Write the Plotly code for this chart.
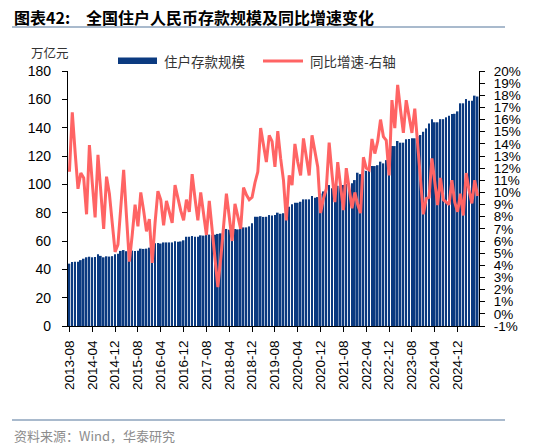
import pandas as pd
import plotly.graph_objects as go

# ---------------- data ----------------
months = pd.date_range("2013-08-01", periods=144, freq="MS").strftime("%Y-%m").tolist()

# 住户存款规模 (万亿元)
deposits = [
    44.0, 45.2, 45.4, 45.4, 46.5,                                        # 2013-08..12
    47.5, 48.5, 48.9, 48.5, 48.7, 50.6, 49.5, 48.5, 49.2, 49.0, 49.3, 50.6,  # 2014
    51.0, 53.0, 53.6, 52.8, 53.0, 53.2, 53.0, 53.2, 54.6, 54.4, 54.6, 55.3,  # 2015
    56.5, 58.4, 58.6, 58.2, 59.0, 59.0, 59.0, 59.0, 59.8, 59.5, 59.7, 60.5,  # 2016
    63.0, 63.0, 63.5, 63.0, 63.0, 64.0, 63.8, 64.2, 64.5, 64.2, 64.4, 65.0,  # 2017
    65.4, 68.2, 68.5, 68.0, 68.2, 68.5, 68.2, 68.6, 69.6, 69.6, 70.3, 72.5,  # 2018
    77.1, 77.1, 77.5, 77.0, 77.1, 78.3, 78.0, 78.3, 80.0, 79.2, 79.6, 81.5,  # 2019
    84.2, 86.0, 87.0, 87.0, 87.7, 89.4, 89.4, 89.4, 91.7, 90.6, 91.0, 93.5,  # 2020
    95.0, 97.2, 99.5, 97.2, 98.8, 99.0, 99.5, 99.5, 100.2, 100.0, 100.7, 103.0,  # 2021
    108.2, 107.2, 110.1, 109.5, 111.0, 112.9, 112.9, 113.5, 116.0, 114.8, 117.1, 120.0,  # 2022
    127.0, 127.0, 130.6, 129.4, 129.4, 131.8, 132.0, 132.5, 132.5, 134.0, 134.8, 137.1,  # 2023
    139.5, 143.0, 146.0, 143.8, 143.8, 146.0, 146.0, 147.3, 148.5, 149.6, 149.8, 151.5,  # 2024
    157.2, 157.2, 160.2, 159.0, 159.0, 162.6, 162.0,                      # 2025-01..07
]

# 同比增速 (%)
yoy = [
    11.7, 16.6, 13.3, 10.3, 11.6,                                         # 2013-08..12
    11.2, 8.2, 13.9, 10.8, 7.95, 13.1, 10.0, 7.0, 11.3, 9.9, 7.5, 5.1,     # 2014
    5.7, 8.5, 11.85, 8.0, 4.3, 6.5, 9.0, 7.2, 10.0, 8.5, 6.8, 7.8,         # 2015
    4.2, 7.5, 10.1, 9.4, 7.3, 9.3, 8.5, 7.5, 10.6, 9.5, 8.5, 7.7,          # 2016
    9.4, 8.4, 11.5, 9.5, 7.7, 10.0, 8.3, 6.5, 9.3, 7.0, 4.5, 2.2,          # 2017
    4.5, 7.5, 9.9, 8.0, 6.0, 9.05, 8.0, 7.0, 10.4, 9.8, 9.4, 9.6,          # 2018
    10.8, 11.7, 15.3, 13.8, 12.5, 14.7, 14.2, 12.1, 15.05, 12.8, 11.0, 7.7,  # 2019
    11.4, 10.6, 14.0, 12.5, 11.4, 14.45, 12.8, 11.4, 14.7, 13.3, 12.1, 8.3,  # 2020
    9.5, 10.3, 14.1, 11.5, 9.2, 12.5, 10.5, 8.55, 12.0, 10.3, 8.7, 10.0,   # 2021
    9.0, 8.3, 12.9, 12.0, 11.85, 14.4, 13.2, 14.2, 16.0, 14.6, 14.3, 11.4,  # 2022
    17.6, 15.3, 18.85, 16.8, 14.9, 17.6, 16.2, 14.9, 16.9, 14.2, 11.2, 8.2,  # 2023
    9.5, 9.6, 12.8, 10.8, 8.95, 11.2, 9.4, 9.2, 9.0, 11.0, 9.2, 8.4,       # 2024
    9.9, 8.1, 11.6, 10.2, 9.1, 11.0, 9.7,                                 # 2025-01..07
]

tick_months = months[::8]
left_ticks = list(range(0, 181, 20))
right_ticks = list(range(-1, 21))

# ---------------- styling ----------------
W, H = 550, 447
L, R, T, B = 68, 71, 71, 121
BAR_COLOR = "#0b3a80"
LINE_COLOR = "#ff6464"
RULE_COLOR = "#a9bacd"
FONT_LAT = "Liberation Sans, Arial, sans-serif"
FONT_CJK = "Noto Sans CJK SC, sans-serif"


def px(x, y):
    """pixel position -> paper coords"""
    return (x - L) / (W - L - R), (H - B - y) / (H - T - B)


fig = go.Figure()
fig.add_trace(go.Bar(x=months, y=deposits, name="住户存款规模",
                     marker=dict(color=BAR_COLOR, line=dict(width=0)),
                     yaxis="y"))
fig.add_trace(go.Scatter(x=months, y=yoy, name="同比增速-右轴", mode="lines",
                         line=dict(color=LINE_COLOR, width=3),
                         yaxis="y2"))

axis_common = dict(showline=True, linecolor="black", linewidth=1.2,
                   ticks="outside", ticklen=5, tickcolor="black",
                   showgrid=False, zeroline=False, automargin=False)

fig.update_layout(
    width=W, height=H,
    margin=dict(l=L, r=R, t=T, b=B, pad=0, autoexpand=False),
    paper_bgcolor="white", plot_bgcolor="white",
    showlegend=False,
    bargap=0.4,
    font=dict(family=FONT_LAT, size=13, color="black"),
    xaxis=dict(type="category", range=[-0.5, len(months) - 0.5],
               tickmode="array", tickvals=tick_months, ticktext=tick_months,
               tickangle=-90, tickfont=dict(size=13.5, family=FONT_LAT),
               ticklabelstandoff=3, **axis_common),
    yaxis=dict(range=[0, 180], tickmode="array", tickvals=left_ticks,
               tickfont=dict(size=14, family=FONT_LAT),
               ticklabelstandoff=8, **axis_common),
    yaxis2=dict(range=[-1, 20], overlaying="y", side="right",
                tickmode="array", tickvals=right_ticks,
                ticktext=[f"{v}%" for v in right_ticks],
                tickfont=dict(size=13.5, family=FONT_LAT),
                ticklabelstandoff=6, **axis_common),
)

annotations = []
shapes = []

# title
tx, ty = px(12, 17)
annotations.append(dict(xref="paper", yref="paper", x=tx, y=ty, xanchor="left", yanchor="middle",
                        showarrow=False,
                        text="<b>图表42:\u3000全国住户人民币存款规模及同比增速变化</b>",
                        font=dict(family=FONT_CJK, size=16, color="black")))
# title rule
x0, y0 = px(12, 27)
x1, _ = px(505, 27)
shapes.append(dict(type="line", xref="paper", yref="paper", x0=x0, x1=x1, y0=y0, y1=y0,
                   line=dict(color=RULE_COLOR, width=1.8)))

# unit
ux, uy = px(29, 52)
annotations.append(dict(xref="paper", yref="paper", x=ux, y=uy, xanchor="left", yanchor="middle",
                        showarrow=False, text="万亿元",
                        font=dict(family=FONT_CJK, size=12.5, color="#333333")))

# legend (manual)
bx0, by0 = px(118, 64)
bx1, by1 = px(157, 57.5)
shapes.append(dict(type="rect", xref="paper", yref="paper", x0=bx0, x1=bx1, y0=by0, y1=by1,
                   fillcolor=BAR_COLOR, line=dict(width=0)))
lx, ly = px(162, 61)
annotations.append(dict(xref="paper", yref="paper", x=lx, y=ly, xanchor="left", yanchor="middle",
                        showarrow=False, text="住户存款规模",
                        font=dict(family=FONT_CJK, size=13.5, color="#333333")))
rx0, ry = px(263, 61)
rx1, _ = px(303, 61)
shapes.append(dict(type="line", xref="paper", yref="paper", x0=rx0, x1=rx1, y0=ry, y1=ry,
                   line=dict(color=LINE_COLOR, width=3)))
lx2, _ = px(308, 61)
annotations.append(dict(xref="paper", yref="paper", x=lx2, y=ly, xanchor="left", yanchor="middle",
                        showarrow=False, text="同比增速-右轴",
                        font=dict(family=FONT_CJK, size=13.5, color="#333333")))

# footer rule + source
fx0, fy = px(12, 420)
fx1, _ = px(505, 420)
shapes.append(dict(type="line", xref="paper", yref="paper", x0=fx0, x1=fx1, y0=fy, y1=fy,
                   line=dict(color=RULE_COLOR, width=1.8)))
sx, sy = px(12, 435)
annotations.append(dict(xref="paper", yref="paper", x=sx, y=sy, xanchor="left", yanchor="middle",
                        showarrow=False, text="资料来源：Wind，华泰研究",
                        font=dict(family=FONT_CJK, size=13, color="#8c8c8c")))

fig.update_layout(annotations=annotations, shapes=shapes)
fig.write_html("out.html",
               config={"displayModeBar": False},
               post_script="document.body.style.margin='0';document.body.style.overflow='hidden';")
